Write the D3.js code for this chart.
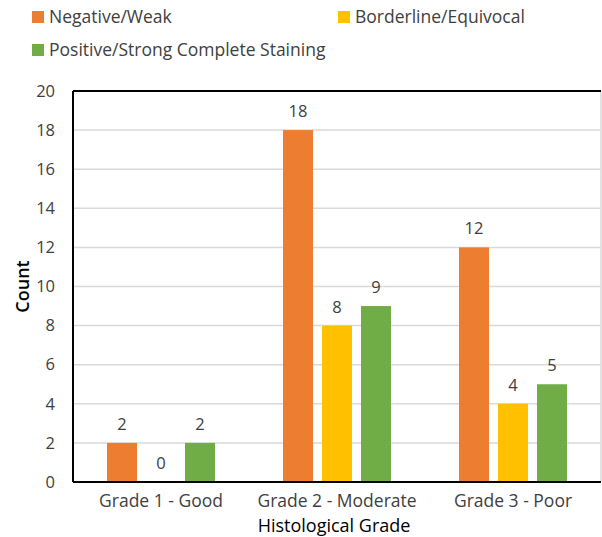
<!DOCTYPE html>
<html>
<head>
<meta charset="utf-8">
<script src="https://cdn.jsdelivr.net/npm/d3@7"></script>
<style>
  body { margin: 0; background: #fff; }
  text { font-family: "Open Sans", sans-serif; }
</style>
</head>
<body>
<div id="chart"></div>
<script>
var grades = ["Grade 1 - Good", "Grade 2 - Moderate", "Grade 3 - Poor"];
var seriesNames = ["Negative/Weak", "Borderline/Equivocal", "Positive/Strong Complete Staining"];
var negativeWeak = [2, 18, 12];
var borderline = [0, 8, 4];
var positiveStrong = [2, 9, 5];
var yTicks = [0, 2, 4, 6, 8, 10, 12, 14, 16, 18, 20];
var colors = ["#ED7D31", "#FFC000", "#70AD47"];

var values = [negativeWeak, borderline, positiveStrong];

var W = 602, H = 537;
var margin = {top: 91, right: 1, bottom: 55, left: 73},
    width = W - margin.left - margin.right,
    height = H - margin.top - margin.bottom;

var svg = d3.select("#chart").append("svg")
    .attr("width", W)
    .attr("height", H);

var g = svg.append("g")
    .attr("transform", "translate(" + margin.left + "," + margin.top + ")");

var x0 = d3.scaleBand().domain(grades).range([0, width]);
var x1 = d3.scaleBand().domain(d3.range(3))
    .range([34, x0.bandwidth() - 34])
    .paddingInner(0.23);
var y = d3.scaleLinear().domain([0, 20]).range([height, 0]);

// gridlines
g.selectAll(".grid")
    .data(yTicks)
  .enter().append("line")
    .attr("x1", 0).attr("x2", width)
    .attr("y1", function(d) { return y(d); })
    .attr("y2", function(d) { return y(d); })
    .attr("stroke", "#d9d9d9")
    .attr("stroke-width", 1.5);

// right border
g.append("line")
    .attr("x1", width).attr("x2", width)
    .attr("y1", 0).attr("y2", height)
    .attr("stroke", "#d9d9d9").attr("stroke-width", 1.5);

// bars
var group = g.selectAll(".group")
    .data(grades)
  .enter().append("g")
    .attr("transform", function(d) { return "translate(" + x0(d) + ",0)"; });

group.selectAll("rect")
    .data(function(d, i) { return values.map(function(s, k) { return {k: k, v: s[i]}; }); })
  .enter().append("rect")
    .attr("x", function(d) { return x1(d.k); })
    .attr("width", x1.bandwidth())
    .attr("y", function(d) { return y(d.v); })
    .attr("height", function(d) { return height - y(d.v); })
    .attr("fill", function(d) { return colors[d.k]; });

group.selectAll(".val")
    .data(function(d, i) { return values.map(function(s, k) { return {k: k, v: s[i]}; }); })
  .enter().append("text")
    .attr("x", function(d) { return x1(d.k) + x1.bandwidth() / 2; })
    .attr("y", function(d) { return y(d.v) - 13; })
    .attr("text-anchor", "middle")
    .attr("font-size", 16.5)
    .attr("fill", "#404040")
    .text(function(d) { return d.v; });

// axes frame
g.append("line").attr("x1", 0).attr("x2", width).attr("y1", 0).attr("y2", 0)
    .attr("stroke", "#000").attr("stroke-width", 2);
g.append("line").attr("x1", 0).attr("x2", width).attr("y1", height).attr("y2", height)
    .attr("stroke", "#000").attr("stroke-width", 2);
g.append("line").attr("x1", 0).attr("x2", 0).attr("y1", 0).attr("y2", height)
    .attr("stroke", "#000").attr("stroke-width", 2);

// y tick labels
var yAxis = d3.axisLeft(y).tickValues(yTicks).tickSize(0).tickPadding(18);
g.append("g").call(yAxis)
    .call(function(a) { a.select(".domain").remove(); })
    .selectAll("text")
    .attr("font-size", 16.5)
    .attr("font-family", "Open Sans, sans-serif")
    .attr("fill", "#404040");

// x tick labels
var xAxis = d3.axisBottom(x0).tickSize(0).tickPadding(13);
g.append("g").attr("transform", "translate(0," + height + ")").call(xAxis)
    .call(function(a) { a.select(".domain").remove(); })
    .selectAll("text")
    .attr("font-size", 17.5)
    .attr("font-family", "Open Sans, sans-serif")
    .attr("fill", "#404040");

// axis titles
svg.append("text")
    .attr("transform", "translate(29," + (margin.top + height / 2) + ") rotate(-90)")
    .attr("text-anchor", "middle")
    .attr("font-size", 18)
    .attr("font-weight", 600)
    .attr("fill", "#000")
    .text("Count");

svg.append("text")
    .attr("x", margin.left + width / 2 - 3)
    .attr("y", 532)
    .attr("text-anchor", "middle")
    .attr("font-size", 18)
    .attr("font-family", "Liberation Sans, Arial, sans-serif")
    .attr("fill", "#000")
    .text("Histological Grade");

// legend
var legendPos = [[32, 11], [338, 11], [32, 44]];
var leg = svg.selectAll(".legend")
    .data(seriesNames)
  .enter().append("g")
    .attr("transform", function(d, i) { return "translate(" + legendPos[i][0] + "," + legendPos[i][1] + ")"; });

leg.append("rect")
    .attr("width", 12).attr("height", 12)
    .attr("fill", function(d, i) { return colors[i]; });

leg.append("text")
    .attr("x", 17)
    .attr("y", 12)
    .attr("font-size", 17.5)
    .attr("fill", "#404040")
    .text(function(d) { return d; });
</script>
</body>
</html>
